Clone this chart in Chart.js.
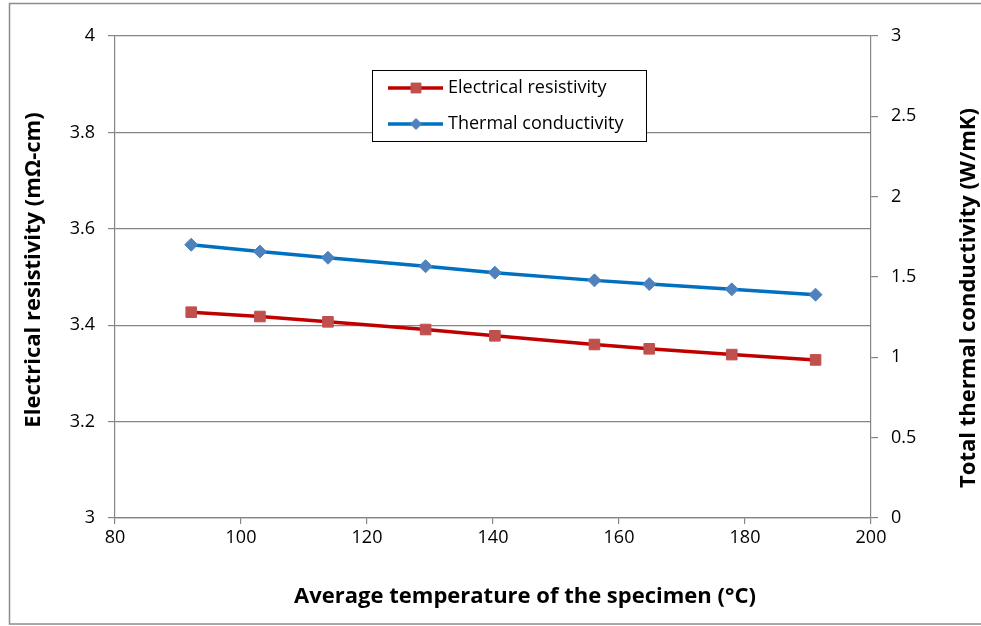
<!DOCTYPE html>
<html>
<head>
<meta charset="utf-8">
<script src="https://cdn.jsdelivr.net/npm/chart.js@4.4.1/dist/chart.umd.min.js"></script>
<style>
  html, body { margin: 0; padding: 0; background: #fff; }
  #contenedor { width: 981px; height: 626px; }
</style>
</head>
<body>
<div id="contenedor"><canvas id="grafico" width="981" height="626"></canvas></div>
<script>
// Temperatura media de la probeta (°C) y valores medidos
const temperaturas = [92.1, 103.0, 113.8, 129.3, 140.3, 156.1, 164.8, 177.9, 191.2];
const resistividad = [3.427, 3.418, 3.407, 3.391, 3.378, 3.360, 3.351, 3.339, 3.328];
const conductividad = [1.701, 1.658, 1.620, 1.567, 1.527, 1.479, 1.456, 1.423, 1.390];

const ticksX = [80, 100, 120, 140, 160, 180, 200];
const ticksIzq = [3, 3.2, 3.4, 3.6, 3.8, 4];
const ticksDer = [0, 0.5, 1, 1.5, 2, 2.5, 3];

const nombresSeries = ['Electrical resistivity', 'Thermal conductivity'];
const tituloX = 'Average temperature of the specimen (°C)';
const tituloIzq = 'Electrical resistivity (mΩ-cm)';
const tituloDer = 'Total thermal conductivity (W/mK)';

const GRIS = '#858585';
const FUENTE = '"Open Sans"';
const FUENTE_TITULO = 'bold 22px ' + FUENTE;
const GROSOR_LINEA = 3.5;

Chart.defaults.font.family = FUENTE;
Chart.defaults.color = '#000';

const puntos = (valores) => temperaturas.map((t, i) => ({ x: t, y: valores[i] }));
const etiqueta = (v) => String(v);

// Marco exterior del gráfico
const marcoExterior = {
  id: 'marcoExterior',
  beforeDraw(chart) {
    const ctx = chart.ctx;
    ctx.save();
    ctx.strokeStyle = '#8c8c8c';
    ctx.lineWidth = 1.5;
    ctx.strokeRect(9.5, 3.5, 980, 620.5);
    ctx.restore();
  }
};

// Títulos de los ejes (los verticales se leen de abajo hacia arriba)
const titulosEjes = {
  id: 'titulosEjes',
  afterDraw(chart) {
    const ctx = chart.ctx;
    ctx.save();
    ctx.fillStyle = '#000';
    ctx.font = FUENTE_TITULO;
    ctx.textAlign = 'center';
    ctx.textBaseline = 'alphabetic';
    ctx.fillText(tituloX, 525, 603);

    const vertical = (texto, x, y) => {
      ctx.save();
      ctx.translate(x, y);
      ctx.rotate(-Math.PI / 2);
      ctx.fillText(texto, 0, 0);
      ctx.restore();
    };
    vertical(tituloIzq, 40, 270);
    vertical(tituloDer, 975, 298);
    ctx.restore();
  }
};

// Leyenda en recuadro dentro del área de trazado
const leyendaRecuadro = {
  id: 'leyendaRecuadro',
  afterDraw(chart) {
    const ctx = chart.ctx;
    const caja = { x: 372, y: 70, w: 275, h: 72 };
    ctx.save();
    ctx.fillStyle = '#fff';
    ctx.fillRect(caja.x, caja.y, caja.w, caja.h);
    ctx.strokeStyle = '#000';
    ctx.lineWidth = 1;
    ctx.strokeRect(caja.x + 0.5, caja.y + 0.5, caja.w - 1, caja.h - 1);

    const filas = [88, 124];
    chart.data.datasets.forEach((ds, i) => {
      const y = filas[i];
      ctx.strokeStyle = ds.borderColor;
      ctx.lineWidth = GROSOR_LINEA;
      ctx.beginPath();
      ctx.moveTo(388, y);
      ctx.lineTo(443, y);
      ctx.stroke();
      ctx.fillStyle = ds.pointBackgroundColor;
      ctx.strokeStyle = ds.pointBorderColor;
      ctx.lineWidth = 1;
      Chart.helpers.drawPoint(ctx, {
        pointStyle: ds.pointStyle,
        radius: ds.pointStyle === 'rect' ? 7 : 5.5,
        rotation: 0,
        borderWidth: 1
      }, 416, y);
      ctx.fillStyle = '#000';
      ctx.font = '18px ' + FUENTE;
      ctx.textBaseline = 'middle';
      ctx.textAlign = 'left';
      ctx.fillText(ds.label, 448, y);
    });
    ctx.restore();
  }
};

new Chart(document.getElementById('grafico'), {
  type: 'line',
  data: {
    datasets: [{
      label: nombresSeries[0],
      data: puntos(resistividad),
      yAxisID: 'y',
      borderColor: '#C00000',
      borderWidth: GROSOR_LINEA,
      pointStyle: 'rect',
      pointRadius: 7.5,
      pointBackgroundColor: '#C0504D',
      pointBorderColor: '#C0504D',
      pointBorderWidth: 1,
      tension: 0
    }, {
      label: nombresSeries[1],
      data: puntos(conductividad),
      yAxisID: 'y1',
      borderColor: '#0070C0',
      borderWidth: GROSOR_LINEA,
      pointStyle: 'rectRot',
      pointRadius: 6.5,
      pointBackgroundColor: '#4F81BD',
      pointBorderColor: '#4F81BD',
      pointBorderWidth: 1,
      tension: 0
    }]
  },
  options: {
    responsive: false,
    devicePixelRatio: 1,
    animation: false,
    layout: { padding: { top: 36, left: 0, right: 0, bottom: 0 } },
    plugins: {
      legend: { display: false },
      tooltip: { enabled: false }
    },
    scales: {
      x: {
        type: 'linear',
        position: 'bottom',
        min: ticksX[0],
        max: ticksX[ticksX.length - 1],
        afterBuildTicks: (s) => { s.ticks = ticksX.map(v => ({ value: v })); },
        ticks: { font: { size: 18 }, padding: 3, color: '#000', callback: etiqueta },
        grid: { drawOnChartArea: false, drawTicks: true, tickLength: 6, color: GRIS, lineWidth: 1.2 },
        border: { color: GRIS, width: 1.2 },
        afterFit: (s) => { s.height = 108; }
      },
      y: {
        position: 'left',
        min: ticksIzq[0],
        max: ticksIzq[ticksIzq.length - 1],
        afterBuildTicks: (s) => { s.ticks = ticksIzq.map(v => ({ value: v })); },
        ticks: { font: { size: 18 }, padding: 13, color: '#000', callback: etiqueta },
        grid: { color: GRIS, tickLength: 7, lineWidth: 1.2 },
        border: { color: GRIS, width: 1.2 },
        afterFit: (s) => { s.width = 115; }
      },
      y1: {
        position: 'right',
        min: ticksDer[0],
        max: ticksDer[ticksDer.length - 1],
        afterBuildTicks: (s) => { s.ticks = ticksDer.map(v => ({ value: v })); },
        ticks: { font: { size: 18 }, padding: 13, color: '#000', callback: etiqueta },
        grid: { drawOnChartArea: false, color: GRIS, tickLength: 7, lineWidth: 1.2 },
        border: { color: GRIS, width: 1.2 },
        afterFit: (s) => { s.width = 110; }
      }
    }
  },
  plugins: [marcoExterior, titulosEjes, leyendaRecuadro]
});
</script>
</body>
</html>
